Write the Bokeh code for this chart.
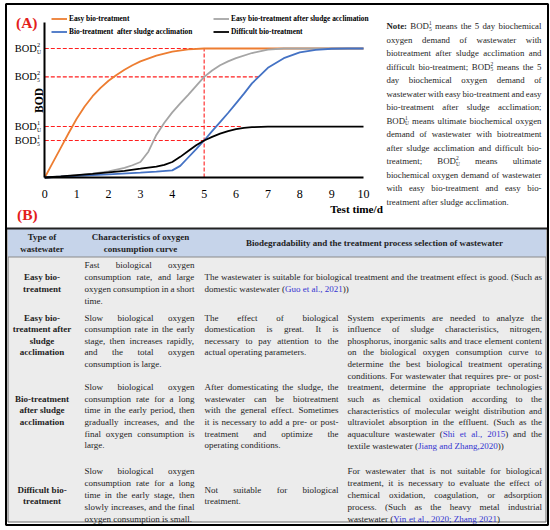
import math
from bokeh.plotting import figure
from bokeh.models import (Range1d, LinearAxis, FixedTicker, Legend, LegendItem,
                          ColumnDataSource)
from bokeh.embed import file_html
from bokeh.resources import INLINE
from bokeh.core.properties import value

# ------------------------------------------------------------------ chart data
TIME_TICKS = [0, 1, 2, 3, 4, 5, 6, 7, 8, 9, 10]

EASY_T = [0, 0.25, 0.5, 0.75, 1, 1.25, 1.5, 1.75, 2, 2.25, 2.5, 2.75, 3, 3.5, 4, 4.5, 5, 6, 7, 8, 9, 10]
EASY_BOD = [0, 1.15, 2.3, 3.45, 4.55, 5.5, 6.3, 6.95, 7.5, 7.95, 8.35, 8.7, 9.0, 9.45, 9.75, 9.93, 10, 10, 10, 10, 10, 10]

ACCL_EASY_T = [0, 0.5, 1, 1.5, 2, 2.5, 2.75, 3, 3.25, 3.5, 3.75, 4, 4.25, 4.5, 4.75, 5, 5.25, 5.5, 5.75, 6, 6.5, 7, 7.5, 8, 9, 10]
ACCL_EASY_BOD = [0, 0.06, 0.17, 0.3, 0.48, 0.75, 0.95, 1.2, 2.0, 3.3, 4.25, 5.05, 5.75, 6.4, 7.1, 7.8, 8.3, 8.7, 9.0, 9.25, 9.65, 9.92, 10, 10, 10, 10]

ACCL_T = [0, 1, 2, 3, 3.5, 4, 4.25, 4.5, 4.75, 5, 5.25, 5.5, 5.75, 6, 6.25, 6.5, 6.75, 7, 7.5, 8, 8.5, 9, 9.5, 10]
ACCL_BOD = [0, 0.12, 0.25, 0.38, 0.45, 0.55, 0.9, 1.55, 2.2, 2.87, 3.6, 4.3, 5.0, 5.75, 6.5, 7.3, 7.9, 8.5, 9.25, 9.7, 9.9, 9.98, 10, 10]

DIFF_T = [0, 0.5, 1, 1.5, 2, 2.5, 3, 3.5, 3.75, 4, 4.25, 4.5, 4.75, 5, 5.25, 5.5, 5.75, 6, 6.25, 6.5, 7, 8, 9, 10]
DIFF_BOD = [0, 0.08, 0.18, 0.28, 0.4, 0.52, 0.68, 0.85, 0.98, 1.2, 1.6, 2.05, 2.5, 2.87, 3.15, 3.4, 3.6, 3.75, 3.85, 3.9, 3.95, 3.95, 3.95, 3.95]

SERIES_NAMES = ["Easy bio-treatment", "Easy bio-treatment after sludge acclimation",
                "Bio-treatment  after sludge acclimation", "Difficult bio-treatment"]

BOD_LEVELS = [10.0, 7.8, 3.95, 2.87]          # BOD2U, BOD2_5, BOD1U, BOD1_5
BOD_SUP = ["2", "2", "1", "1"]
BOD_SUB = ["U", "5", "U", "5"]
DASH_X_END = [5.0, 6.7, 6.15, 5.0]
DAY_5 = 5.0

# ------------------------------------------------------------------ texts
NOTE_LINES = [
    "*Note: BOD^1_5 means the 5 day biochemical",
    "oxygen demand of wastewater with",
    "biotreatment after sludge acclimation and",
    "difficult bio-treatment; BOD^2_5 means the 5",
    "day biochemical oxygen demand of",
    "wastewater with easy bio-treatment and easy",
    "bio-treatment after sludge acclimation;",
    "BOD^1_U means ultimate biochemical oxygen",
    "demand of wastewater with biotreatment",
    "after sludge acclimation and difficult bio-",
    "treatment; BOD^2_U means ultimate",
    "biochemical oxygen demand of wastewater",
    "with easy bio-treatment and easy bio-",
    "treatment after sludge acclimation.",
]

HEAD_TYPE = ["Type of", "wastewater"]
HEAD_CURVE = ["Characteristics of oxygen", "consumption curve"]
HEAD_SEL = "Biodegradability and the treatment process selection of wastewater"

R1_TYPE = ["Easy bio-", "treatment"]
R1_CURVE = ["Fast biological oxygen", "consumption rate, and large",
            "oxygen consumption in a short", "time."]
R1_SEL = ["The wastewater is suitable for biological treatment and the treatment effect is good. (Such as",
          "domestic wastewater ([Guo et al., 2021]))"]

R2_TYPE = ["Easy bio-", "treatment after", "sludge", "acclimation"]
R2_CURVE = ["Slow biological oxygen", "consumption rate in the early",
            "stage, then increases rapidly,", "and the total oxygen",
            "consumption is large."]
R2_SEL = ["The effect of biological", "domestication is great. It is",
          "necessary to pay attention to the", "actual operating parameters."]
R23_PROC = ["System experiments are needed to analyze the",
            "influence of sludge characteristics, nitrogen,",
            "phosphorus, inorganic salts and trace element content",
            "on the biological oxygen consumption curve to",
            "determine the best biological treatment operating",
            "conditions. For wastewater that requires pre- or post-",
            "treatment, determine the appropriate technologies",
            "such as chemical oxidation according to the",
            "characteristics of molecular weight distribution and",
            "ultraviolet absorption in the effluent. (Such as the",
            "aquaculture wastewater ([Shi et al., 2015]) and the",
            "textile wastewater ([Jiang and Zhang,2020]))"]

R3_TYPE = ["Bio-treatment", "after sludge", "acclimation"]
R3_CURVE = ["Slow biological oxygen", "consumption rate for a long",
            "time in the early period, then", "gradually increases, and the",
            "final oxygen consumption is", "large."]
R3_SEL = ["After domesticating the sludge, the", "wastewater can be biotreatment",
          "with the general effect. Sometimes", "it is necessary to add a pre- or post-",
          "treatment and optimize the", "operating conditions."]

R4_TYPE = ["Difficult bio-", "treatment"]
R4_CURVE = ["Slow biological oxygen", "consumption rate for a long",
            "time in the early stage, then", "slowly increases, and the final",
            "oxygen consumption is small."]
R4_SEL = ["Not suitable for biological", "treatment."]
R4_PROC = ["For wastewater that is not suitable for biological",
           "treatment, it is necessary to evaluate the effect of",
           "chemical oxidation, coagulation, or adsorption",
           "process. (Such as the heavy metal industrial",
           "wastewater ([Yin et al., 2020; Zhang 2021])"]

# ------------------------------------------------------------------ geometry
W, H = 550, 530
RX0 = 0.0
SX = 1.0
SY = 1.0
REF_X1 = RX0 + W / SX
REF_H = H / SY

FONT = "Liberation Serif"
TXT = "#1e1e1e"
BLUE = "#3535d0"
RED = "#e3201b"

p = figure(width=W, height=H, x_range=Range1d(RX0, REF_X1), y_range=Range1d(REF_H, 0),
           x_axis_type=None, y_axis_type=None, toolbar_location=None,
           output_backend="svg", min_border=0, title=None)
p.outline_line_color = None
p.background_fill_color = "white"
p.border_fill_color = "white"

# chart coordinate system (reference px: x 0 -> 44.3, 10 -> 363 ; y 0 -> 177, 10 -> 48)
X0, X10 = 44.3, 363.0
Y0, Y10, YTOP = 177.0, 48.0, 22.0
kx = (X10 - X0) / 10.0
ky = (Y0 - Y10) / 10.0
p.extra_x_ranges = {"cx": Range1d((RX0 - X0) / kx, (REF_X1 - X0) / kx)}
p.extra_y_ranges = {"cy": Range1d(-(REF_H - Y0) / ky, Y0 / ky)}
Y_AXIS_TOP = (Y0 - YTOP) / ky

# ------------------------------------------------------------------ boxes
p.quad(left=[7.5], right=[545.5], top=[228], bottom=[521.5],
       fill_color="#ececec", line_color="#6a6a6a", line_width=1)
p.quad(left=[7.5], right=[545.5], top=[228], bottom=[256.5],
       fill_color="#c6d4ea", line_color=None)
p.segment(x0=[5.5], y0=[228], x1=[547.5], y1=[228], line_color="#222222", line_width=2)
p.segment(x0=[7.5], y0=[256.5], x1=[545.5], y1=[256.5], line_color="#8a8a8a", line_width=1)
p.quad(left=[5.5], right=[547.5], top=[3.5], bottom=[524.5],
       fill_color=None, line_color="black", line_width=2)

# ------------------------------------------------------------------ chart
dash_src = ColumnDataSource(dict(x0=[0.0] * len(BOD_LEVELS), y0=BOD_LEVELS,
                                 x1=DASH_X_END, y1=BOD_LEVELS))
p.segment(x0="x0", y0="y0", x1="x1", y1="y1", source=dash_src, x_range_name="cx",
          y_range_name="cy", line_color="#ff1f1f", line_width=1.1, line_dash="4 2")
p.segment(x0=[DAY_5], y0=[0], x1=[DAY_5], y1=[BOD_LEVELS[0]], x_range_name="cx",
          y_range_name="cy", line_color="#ff1f1f", line_width=1.1, line_dash="4 2")

LW = 1.8
r_easy = p.line(EASY_T, EASY_BOD, x_range_name="cx", y_range_name="cy",
                line_color="#ED7D31", line_width=LW)
r_acce = p.line(ACCL_EASY_T, ACCL_EASY_BOD, x_range_name="cx", y_range_name="cy",
                line_color="#A5A5A5", line_width=LW)
r_accl = p.line(ACCL_T, ACCL_BOD, x_range_name="cx", y_range_name="cy",
                line_color="#4472C4", line_width=LW)
r_diff = p.line(DIFF_T, DIFF_BOD, x_range_name="cx", y_range_name="cy",
                line_color="black", line_width=LW)

xaxis = LinearAxis(x_range_name="cx", y_range_name="cy", fixed_location=0, bounds=(0, 10),
                   ticker=FixedTicker(ticks=TIME_TICKS), axis_line_width=2,
                   axis_line_color="black", major_tick_line_color=None,
                   minor_tick_line_color=None, major_tick_out=0, major_tick_in=0,
                   major_label_standoff=12,
                   major_label_text_font=FONT,
                   major_label_text_font_size=f"{12 * SX:.1f}px",
                   major_label_text_color="black")
p.add_layout(xaxis, "below")
yaxis = LinearAxis(x_range_name="cx", y_range_name="cy", fixed_location=0,
                   bounds=(0, Y_AXIS_TOP), ticker=FixedTicker(ticks=[]),
                   axis_line_width=2, axis_line_color="black",
                   major_tick_line_color=None, minor_tick_line_color=None,
                   major_label_text_font_size="0px")
p.add_layout(yaxis, "left")

# BOD tick labels with super/subscripts
n = len(BOD_LEVELS)
p.text(x=[0] * n, y=BOD_LEVELS, text=["BOD"] * n, x_range_name="cx", y_range_name="cy",
       x_offset=-(X0 - 36.3) * SX, text_align="right", text_baseline="middle",
       text_font=value(FONT), text_font_size=f"{10.4 * SX:.2f}px", text_color="black")
p.text(x=[0] * n, y=[v + 3.4 / ky for v in BOD_LEVELS], text=BOD_SUP,
       x_range_name="cx", y_range_name="cy", x_offset=-(X0 - 36.6) * SX,
       text_align="left", text_baseline="middle", text_font=value(FONT),
       text_font_size=f"{6.3 * SX:.2f}px", text_color="black")
p.text(x=[0] * n, y=[v - 3.2 / ky for v in BOD_LEVELS], text=BOD_SUB,
       x_range_name="cx", y_range_name="cy", x_offset=-(X0 - 36.6) * SX,
       text_align="left", text_baseline="middle", text_font=value(FONT),
       text_font_size=f"{5.6 * SX:.2f}px", text_color="black")

# axis titles and panel letters (reference px)
p.text(x=[38.8], y=[100], text=["BOD"], angle=math.pi / 2, text_align="center",
       text_baseline="middle", text_font=value(FONT), text_font_style="bold",
       text_font_size=f"{11.5 * SX:.2f}px", text_color="black")
p.text(x=[356], y=[208], text=["Test time/d"], text_align="center",
       text_baseline="middle", text_font=value(FONT), text_font_style="bold",
       text_font_size=f"{11.2 * SX:.2f}px", text_color="black")
p.text(x=[15.5, 16.5], y=[22, 214], text=["(A)", "(B)"], text_align="left",
       text_baseline="middle", text_font=value(FONT), text_font_style="bold",
       text_font_size=f"{15.5 * SX:.2f}px", text_color=RED)

# legends
LEG_ROW2_Y = 31.5


def make_legend(items, left_ref):
    leg = Legend(items=items, location=((left_ref - RX0) * SX, H - (LEG_ROW2_Y * SY + 6.5)),
                 orientation="vertical",
                 padding=0, margin=0, spacing=0, glyph_width=int(16 * SX),
                 glyph_height=13, label_height=13, label_standoff=2,
                 border_line_color=None, background_fill_alpha=0,
                 label_text_font=FONT, label_text_font_style="bold",
                 label_text_font_size=f"{7.4 * SX:.2f}px", label_text_color="black")
    p.add_layout(leg)


make_legend([LegendItem(label=SERIES_NAMES[0], renderers=[r_easy]),
             LegendItem(label=SERIES_NAMES[2], renderers=[r_accl])], 51)
make_legend([LegendItem(label=SERIES_NAMES[1], renderers=[r_acce]),
             LegendItem(label=SERIES_NAMES[3], renderers=[r_diff])], 213)

# ------------------------------------------------------------------ text layout helpers
UP_R = [722, 667, 667, 722, 611, 556, 722, 722, 333, 389, 722, 611, 889, 722, 722, 556, 722, 667, 556, 611, 722, 722, 944, 722, 722, 611]
LO_R = [444, 500, 444, 500, 444, 333, 500, 500, 278, 278, 500, 278, 778, 500, 500, 500, 500, 333, 389, 278, 500, 500, 722, 500, 500, 444]
UP_B = [722, 667, 722, 722, 667, 611, 778, 778, 389, 500, 778, 667, 944, 722, 778, 611, 778, 722, 556, 667, 722, 722, 1000, 722, 722, 667]
LO_B = [500, 556, 444, 556, 444, 333, 500, 556, 278, 333, 556, 278, 833, 556, 500, 556, 556, 444, 389, 333, 556, 500, 722, 500, 500, 444]
WR, WB = {}, {}
for i, c in enumerate("ABCDEFGHIJKLMNOPQRSTUVWXYZ"):
    WR[c], WB[c] = UP_R[i], UP_B[i]
for i, c in enumerate("abcdefghijklmnopqrstuvwxyz"):
    WR[c], WB[c] = LO_R[i], LO_B[i]
for c in "0123456789":
    WR[c] = WB[c] = 500
WR.update({" ": 250, ",": 250, ".": 250, ";": 278, ":": 278, "-": 333, "(": 333, ")": 333, "/": 278})
WB.update({" ": 250, ",": 250, ".": 250, ";": 333, ":": 333, "-": 333, "(": 333, ")": 333, "/": 278})


def tw(s, bold=False):
    t = WB if bold else WR
    return sum(t.get(c, 500) for c in s) / 1000.0


SCRIPT = 0.62
sink = dict(x=[], y=[], text=[], color=[], style=[], size=[])


def put(x, y, t, color, style, size):
    sink["x"].append(x)
    sink["y"].append(y)
    sink["text"].append(t)
    sink["color"].append(color)
    sink["style"].append(style)
    sink["size"].append(f"{size * SX:.2f}px")


def parse(word, state):
    bold = word.startswith("*")
    if bold:
        word = word[1:]
    segs, i = [], 0
    while i < len(word):
        c = word[i]
        if c == "[":
            state["blue"] = True
            i += 1
            continue
        if c == "]":
            state["blue"] = False
            i += 1
            continue
        if c in "^_":
            segs.append(["sup" if c == "^" else "sub", word[i + 1], False])
            i += 2
            continue
        kind = "b" if bold else "r"
        if segs and segs[-1][0] == kind and segs[-1][2] == state["blue"]:
            segs[-1][1] += c
        else:
            segs.append([kind, c, state["blue"]])
        i += 1
    return segs


def seg_layout(segs, x, y, size, draw):
    i = 0
    while i < len(segs):
        k, t, b = segs[i]
        if k in ("sup", "sub"):
            group = [segs[i]]
            if i + 1 < len(segs) and segs[i + 1][0] in ("sup", "sub"):
                group.append(segs[i + 1])
                i += 1
            wmax = 0
            for kk, tt, _ in group:
                wmax = max(wmax, tw(tt) * size * SCRIPT)
                if draw:
                    dy = -0.32 * size if kk == "sup" else 0.28 * size
                    put(x, y + dy, tt, TXT, "normal", size * SCRIPT)
            x += wmax
        else:
            if draw:
                put(x, y, t, BLUE if b else TXT, "bold" if k == "b" else "normal", size)
            x += tw(t, k == "b") * size
        i += 1
    return x


def paragraph(lines, x0, x1, ys, size):
    state = {"blue": False}
    for li, (line, y) in enumerate(zip(lines, ys)):
        words = line.split()
        toks = [parse(w, state) for w in words]
        widths = [seg_layout(t, 0, 0, size, False) for t in toks]
        last = li == len(lines) - 1
        if not last and len(words) > 1:
            gap = (x1 - x0 - sum(widths)) / (len(words) - 1)
        else:
            gap = 0.25 * size
        x = x0
        for t, w in zip(toks, widths):
            seg_layout(t, x, y, size, True)
            x += w + gap


def ys(y0, dy, k):
    return [y0 + dy * i for i in range(k)]


csink = dict(x=[], y=[], text=[])


def centered(lines, xc, yy):
    for t, y in zip(lines, yy):
        csink["x"].append(xc)
        csink["y"].append(y)
        csink["text"].append(t)


# ------------------------------------------------------------------ note
paragraph(NOTE_LINES, 386, 541, ys(25.7, 13.5, len(NOTE_LINES)), 8.8)

# ------------------------------------------------------------------ table
FS = 9.0
C2 = (84, 194)
C3 = (204, 338)
C4 = (347, 541.5)
C1X = 41.5

centered(HEAD_TYPE, C1X, [236, 248])
centered(HEAD_CURVE, 140, [236, 248])
centered([HEAD_SEL], 374, [242])

centered(R1_TYPE, C1X, [276, 288])
paragraph(R1_CURVE, C2[0], C2[1], ys(264, 12, len(R1_CURVE)), FS)
paragraph(R1_SEL, C3[0], C4[1], [276, 288], FS)

centered(R2_TYPE, C1X, ys(317, 11.65, len(R2_TYPE)))
paragraph(R2_CURVE, C2[0], C2[1], ys(317, 11.65, len(R2_CURVE)), FS)
paragraph(R2_SEL, C3[0], C3[1], ys(317, 11.65, len(R2_SEL)), FS)
paragraph(R23_PROC, C4[0], C4[1], ys(317, 11.65, len(R23_PROC)), FS)

centered(R3_TYPE, C1X, [398, 409.5, 421])
paragraph(R3_CURVE, C2[0], C2[1], ys(386.5, 11.65, len(R3_CURVE)), FS)
paragraph(R3_SEL, C3[0], C3[1], ys(386.5, 11.65, len(R3_SEL)), FS)

centered(R4_TYPE, C1X, [489, 500.5])
paragraph(R4_CURVE, C2[0], C2[1], ys(470, 12, len(R4_CURVE)), FS)
paragraph(R4_SEL, C3[0], C3[1], [489, 500.5], FS)
paragraph(R4_PROC, C4[0], C4[1], ys(470, 12, len(R4_PROC)), FS)

p.text(x="x", y="y", text="text", source=ColumnDataSource(sink), text_align="left",
       text_baseline="middle", text_font=value(FONT), text_font_style="style",
       text_font_size="size", text_color="color")
p.text(x="x", y="y", text="text", source=ColumnDataSource(csink), text_align="center",
       text_baseline="middle", text_font=value(FONT), text_font_style="bold",
       text_font_size=f"{FS * SX:.2f}px", text_color=TXT)

open("out.html", "w").write(file_html(p, INLINE))
